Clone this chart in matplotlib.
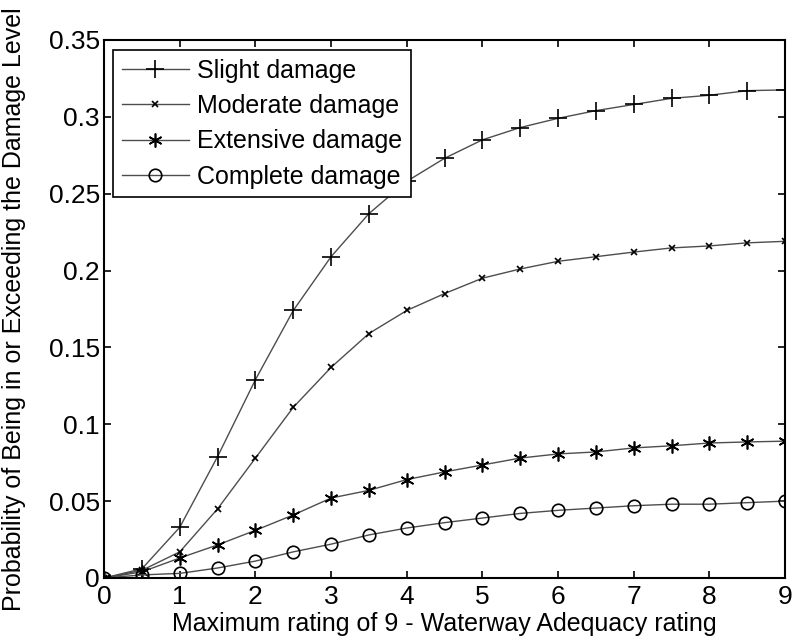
import numpy as np
import matplotlib
matplotlib.use("Agg")
import matplotlib.pyplot as plt

plt.rcParams["font.family"] = ["Liberation Sans", "DejaVu Sans"]

# fragility curves vs. waterway adequacy rating
rating = [0, 0.5, 1, 1.5, 2, 2.5, 3, 3.5, 4, 4.5, 5, 5.5, 6, 6.5, 7, 7.5, 8, 8.5, 9]
slight = [0, 0.006, 0.033, 0.079, 0.129, 0.174, 0.209, 0.237, 0.258, 0.273, 0.285, 0.293,
          0.299, 0.304, 0.308, 0.312, 0.314, 0.317, 0.3175]
moderate = [0, 0.005, 0.017, 0.045, 0.078, 0.111, 0.137, 0.159, 0.174, 0.185, 0.195, 0.201,
            0.206, 0.209, 0.212, 0.2147, 0.216, 0.218, 0.219]
extensive = [0, 0.004, 0.013, 0.0215, 0.031, 0.041, 0.052, 0.057, 0.064, 0.069, 0.0735, 0.078,
             0.0807, 0.082, 0.0846, 0.086, 0.0878, 0.0885, 0.089]
complete = [0, 0.002, 0.003, 0.0065, 0.011, 0.017, 0.022, 0.028, 0.0325, 0.036, 0.039, 0.042,
            0.044, 0.0455, 0.047, 0.048, 0.048, 0.049, 0.050]

labels = ["Slight damage", "Moderate damage", "Extensive damage", "Complete damage"]
series = [slight, moderate, extensive, complete]
markers = [("+", 13), ("x", 5), ((6, 2, 0), 10), ("o", 9)]

FS = 18

fig = plt.figure(figsize=(8.01, 6.44), dpi=100)
ax = fig.add_axes([0.13, 0.1025, 0.85, 0.8355])

for y, lab, (m, ms) in zip(series, labels, markers):
    ax.plot(rating, y, color="0.3", lw=1.0, marker=m, ms=ms, mew=1.2,
            mfc="none", mec="black", label=lab)

ax.set_xlim(0, 9)
ax.set_ylim(0, 0.35)
ax.set_xticks(range(10))
ax.set_yticks(np.arange(0, 0.351, 0.05))
ax.set_yticklabels(["0", "0.05", "0.1", "0.15", "0.2", "0.25", "0.3", "0.35"])
ax.tick_params(direction="in", length=5, width=1.2, top=True, right=True,
               labelsize=19)
ax.tick_params(axis="x", pad=5)
ax.tick_params(axis="y", pad=3)
for sp in ax.spines.values():
    sp.set_linewidth(1.5)

ax.set_xlabel("Maximum rating of 9 - Waterway Adequacy rating", fontsize=FS, labelpad=2)
ax.set_ylabel("Probability of Being in or Exceeding the Damage Level", fontsize=FS, labelpad=16)

leg = ax.legend(loc="upper left", bbox_to_anchor=(0.013, 0.981), borderaxespad=0,
                fontsize=FS, fancybox=False, framealpha=1, edgecolor="black",
                handlelength=2.7, handletextpad=0.3, labelspacing=0.45,
                borderpad=0.35)
leg.get_frame().set_linewidth(1.2)

fig.savefig("out.png", dpi=100)
